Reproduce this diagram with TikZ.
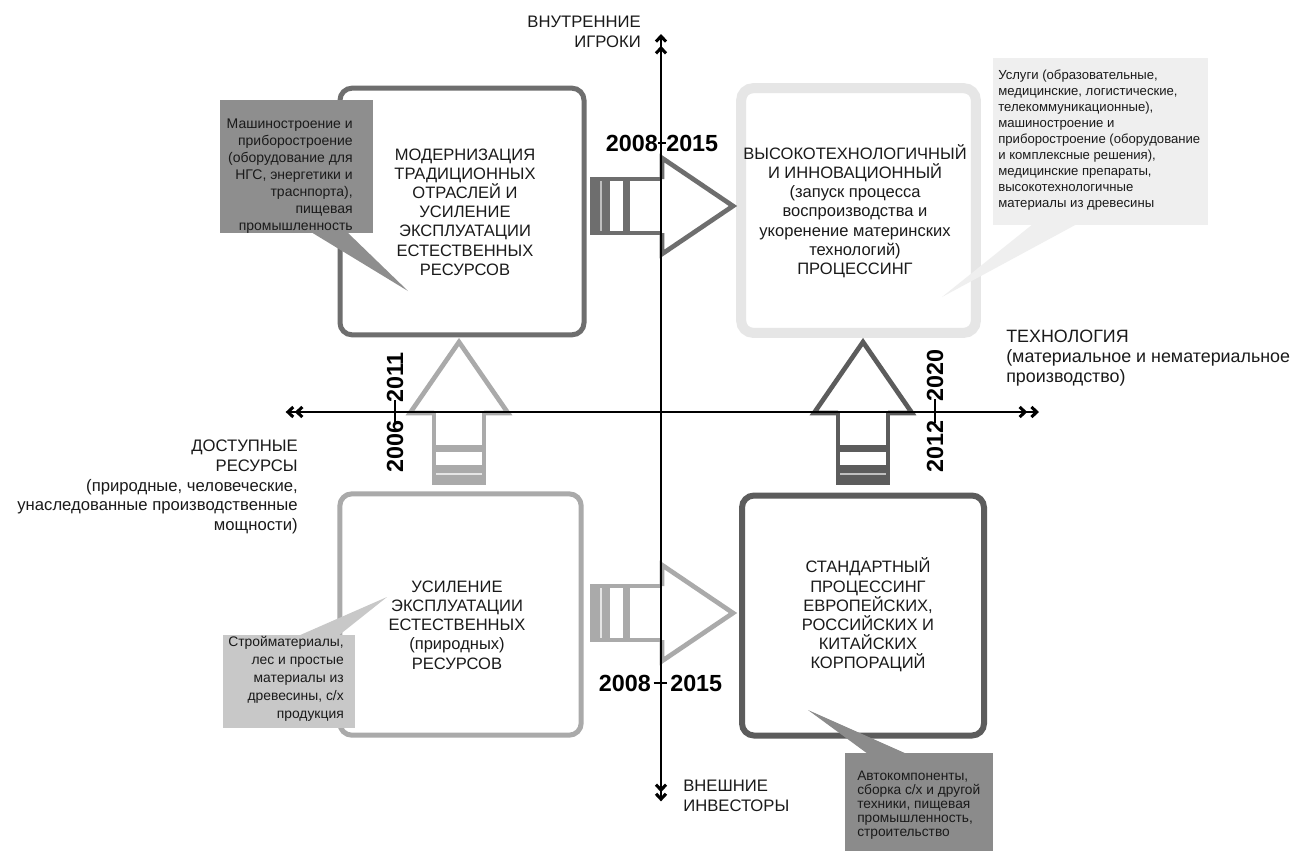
\documentclass[tikz,border=0pt]{standalone}
\usepackage{fontspec}
\setmainfont{Liberation Sans}
\usetikzlibrary{arrows.meta}
\definecolor{cTL}{HTML}{6E6E6E}
\definecolor{cTR}{HTML}{E6E6E6}
\definecolor{cBL}{HTML}{AAAAAA}
\definecolor{cBR}{HTML}{5C5C5C}
\definecolor{kTL}{HTML}{8E8E8E}
\definecolor{kTR}{HTML}{EFEFEF}
\definecolor{kBL}{HTML}{C8C8C8}
\definecolor{kBR}{HTML}{8B8B8B}
\definecolor{txt}{HTML}{1A1A1A}
\newcommand\myvarrow[4]{%
  \fill[#1] ({#3-27},{#4+72}) rectangle ({#3+27},{#4+52});
  \fill[#1] ({#3-27},{#4+39}) rectangle ({#3+27},{#4+32});
  \draw[#2, line width=1.3pt] ({#3-25},{#4+61}) -- ({#3+25},{#4+61});
  \draw[#1, line width=3.5pt, line join=miter] ({#3-25},#4) -- ({#3-25},{#4+70}) -- ({#3+25},{#4+70}) -- ({#3+25},#4);
  \draw[#1, line width=3.5pt, line join=miter] ({#3-25},#4) -- ({#3-49},#4) -- (#3,{#4-71}) -- ({#3+49},#4) -- ({#3+25},#4);
}
\newcommand\myharrow[4]{%
  \fill[#1] ({#3-72},{#4-29}) rectangle ({#3-52},{#4+29});
  \fill[#1] ({#3-39},{#4-29}) rectangle ({#3-32},{#4+29});
  \draw[#2, line width=1.3pt] ({#3-61},{#4-27}) -- ({#3-61},{#4+27});
  \draw[#1, line width=3.5pt, line join=miter] (#3,{#4-27}) -- ({#3-70},{#4-27}) -- ({#3-70},{#4+27}) -- (#3,{#4+27});
  \draw[#1, line width=3.5pt, line join=miter] (#3,{#4-27}) -- (#3,{#4-48}) -- ({#3+71},#4) -- (#3,{#4+48}) -- (#3,{#4+27});
}
\begin{document}
\begin{tikzpicture}[x=0.75pt,y=-0.75pt,
  boxtxt/.style={font=\fontsize{12.4}{14.4}\selectfont, align=center, inner sep=0pt, text=txt},
  axtxt/.style={font=\fontsize{12.5}{14.8}\selectfont, inner sep=0pt, text=txt},
  yeartxt/.style={font=\fontsize{17.5}{20}\selectfont\bfseries, inner sep=0pt, text=black},
  qbox/.style={rounded corners=9pt, inner sep=0pt, fill=white},
  axis/.style={line width=1.5pt, black},
  dblchev/.style={{Straight Barb[length=4pt,width=7.5pt,line width=2.3pt,sep=2pt]Straight Barb[length=4pt,width=7.5pt,line width=2.3pt]}-{Straight Barb[length=4pt,width=7.5pt,line width=2.3pt,sep=2pt]Straight Barb[length=4pt,width=7.5pt,line width=2.3pt]}},
  calltxt/.style={inner sep=0pt, text=txt}
]
\useasboundingbox (0,0) rectangle (1305,851);
\fill[white] (0,0) rectangle (1305,851);

% boxes
\node[qbox, draw=cTL, line width=3.75pt, minimum width=183pt, minimum height=185pt] (boxTL) at (462,211.5) {};
\node[qbox, draw=cTR, line width=7.5pt, minimum width=176pt, minimum height=183.5pt] (boxTR) at (858.5,210.5) {};
\node[qbox, draw=cBL, line width=3.75pt, minimum width=181pt, minimum height=181pt] (boxBL) at (460.5,614.5) {};
\node[qbox, draw=cBR, line width=4.5pt, minimum width=181.5pt, minimum height=180pt] (boxBR) at (863,615.5) {};

\node[boxtxt] (tTL) at (465,212) {МОДЕРНИЗАЦИЯ\\ТРАДИЦИОННЫХ\\ОТРАСЛЕЙ И\\УСИЛЕНИЕ\\ЭКСПЛУАТАЦИИ\\ЕСТЕСТВЕННЫХ\\РЕСУРСОВ};
\node[boxtxt] (tTR) at (855,211) {ВЫСОКОТЕХНОЛОГИЧНЫЙ\\И ИННОВАЦИОННЫЙ\\(запуск процесса\\воспроизводства и\\укоренение материнских\\технологий)\\ПРОЦЕССИНГ};
\node[boxtxt] (tBL) at (457,625) {УСИЛЕНИЕ\\ЭКСПЛУАТАЦИИ\\ЕСТЕСТВЕННЫХ\\(природных)\\РЕСУРСОВ};
\node[boxtxt] (tBR) at (868,615) {СТАНДАРТНЫЙ\\ПРОЦЕССИНГ\\ЕВРОПЕЙСКИХ,\\РОССИЙСКИХ И\\КИТАЙСКИХ\\КОРПОРАЦИЙ};

% callouts
\fill[kTL] (220,100) rectangle (373,233);
\fill[kTL] (311,232) -- (408,291) -- (347,232) -- cycle;
\node[calltxt, anchor=east, align=right, font=\fontsize{10.5}{12.75}\selectfont] (cTLt) at (353,176) {Машиностроение и\\приборостроение\\(оборудование для\\НГС, энергетики и\\траснпорта),\\пищевая\\промышленность};

\fill[kTR] (993,58) rectangle (1208,225);
\fill[kTR] (1033,224) -- (942,297) -- (1077,224) -- cycle;
\node[calltxt, anchor=west, align=left, font=\fontsize{9.85}{12}\selectfont] (cTRt) at (998,140.5) {Услуги (образовательные,\\медицинские, логистические,\\телекоммуникационные),\\машиностроение и\\приборостроение (оборудование\\и комплексные решения),\\медицинские препараты,\\высокотехнологичные\\материалы из древесины};

\fill[kBL] (223,635) rectangle (355,728);
\fill[kBL] (298,636) -- (387,597) -- (338,636) -- cycle;
\node[calltxt, anchor=east, align=right, font=\fontsize{10.4}{13.5}\selectfont] (cBLt) at (344,679) {Стройматериалы,\\лес и простые\\материалы из\\древесины, с/х\\продукция};

\fill[kBR] (845,753) rectangle (993,851);
\fill[kBR] (868,754) -- (808,710) -- (907,754) -- cycle;
\node[calltxt, anchor=west, align=left, font=\fontsize{10.3}{10.5}\selectfont] (cBRt) at (857,805) {Автокомпоненты,\\сборка с/х и другой\\техники, пищевая\\промышленность,\\строительство};

% big arrows
\myharrow{cTL}{gray!50}{662}{206}
\myharrow{cBL}{gray!20}{662}{613}
\myvarrow{cBL}{gray!20}{459}{413}
\myvarrow{cBR}{gray!50}{863}{413}

% axes
\coordinate (axT) at (661,34);
\coordinate (axB) at (661,804);
\coordinate (axL) at (283,412);
\coordinate (axR) at (1039,412);
\draw[axis, dblchev] (axL) -- (axR);
\draw[axis, dblchev] (axB) -- (axT);

% year labels
\node[yeartxt, anchor=east] (y1a) at (658,143) {2008};
\node[yeartxt, anchor=west] (y1b) at (666,143) {2015};
\draw[axis] (y1a.east) -- (y1b.west);
\node[yeartxt, anchor=east] (y2a) at (651,683) {2008};
\node[yeartxt, anchor=west] (y2b) at (670,683) {2015};
\draw[axis] ([xshift=2pt]y2a.east) -- ([xshift=-2pt]y2b.west);
\node[yeartxt, anchor=east, rotate=90] (y3a) at (395,420) {2006};
\node[yeartxt, anchor=west, rotate=90] (y3b) at (395,403) {2011};
\draw[axis] ([yshift=-2pt]y3a.east) -- ([yshift=2pt]y3b.west);
\node[yeartxt, anchor=east, rotate=90] (y4a) at (935,420) {2012};
\node[yeartxt, anchor=west, rotate=90] (y4b) at (935,402) {2020};
\draw[axis] ([yshift=-2pt]y4a.east) -- ([yshift=2pt]y4b.west);

% axis labels
\node[axtxt, anchor=east, align=right] (lTop) at (641,32) {ВНУТРЕННИЕ\\ИГРОКИ};
\node[axtxt, anchor=west, align=left] (lBot) at (683,796) {ВНЕШНИЕ\\ИНВЕСТОРЫ};
\node[axtxt, anchor=west, align=left, font=\fontsize{13.4}{15}\selectfont] (lRight) at (1006,358) {ТЕХНОЛОГИЯ\\(материальное и нематериальное\\производство)};
\node[axtxt, anchor=east, align=right] (lLeft) at (298,487) {ДОСТУПНЫЕ\\РЕСУРСЫ\\(природные, человеческие,\\унаследованные производственные\\мощности)};
\end{tikzpicture}
\end{document}
